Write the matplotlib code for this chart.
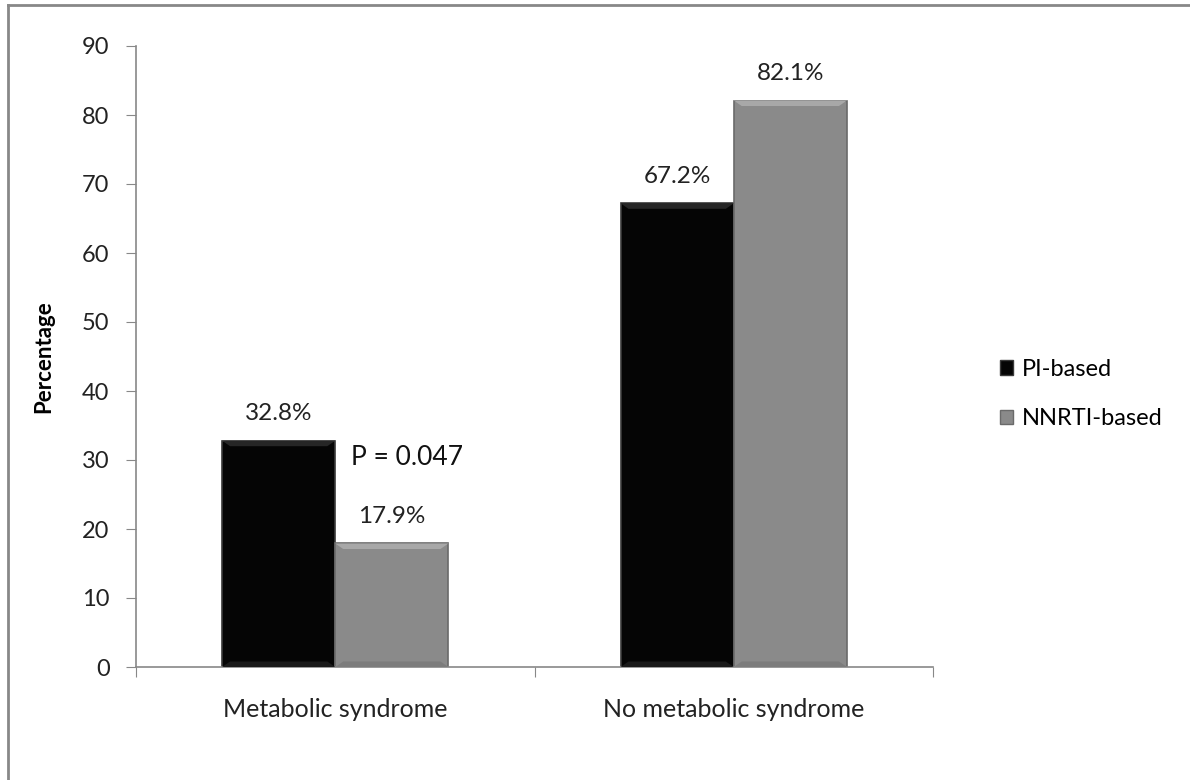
import matplotlib
matplotlib.use("Agg")
import matplotlib.pyplot as plt
import numpy as np
from matplotlib.patches import Polygon, Patch
from matplotlib.lines import Line2D

categories = ["Metabolic syndrome", "No metabolic syndrome"]
series_names = ["PI-based", "NNRTI-based"]
pi_values = [32.8, 67.2]
nnrti_values = [17.9, 82.1]
bar_labels_pi = ["32.8%", "67.2%"]
bar_labels_nnrti = ["17.9%", "82.1%"]
p_text = "P = 0.047"
yticks = [0, 10, 20, 30, 40, 50, 60, 70, 80, 90]

FONT = ["Lato", "DejaVu Sans"]
plt.rcParams["font.family"] = FONT

fig = plt.figure(figsize=(11.9, 7.8), dpi=100)
ax = fig.add_axes([136/1190, 1-667/780, (933-136)/1190, (667-46)/780])

x = np.arange(len(categories))
w = 0.284
colors = ["#050505", "#8a8a8a"]
edges = ["#3a3a3a", "#6a6a6a"]
bevel_top = ["#262626", "#a8a8a8"]
bevel_bot = ["#1a1a1a", "#7c7c7c"]

b1 = ax.bar(x - w/2, pi_values, w, color=colors[0], edgecolor=edges[0], linewidth=1.2, zorder=2)
b2 = ax.bar(x + w/2, nnrti_values, w, color=colors[1], edgecolor=edges[1], linewidth=1.2, zorder=2)

# bevel effect derived from bar geometry
bev_x = 0.02
bev_y = 0.8
for bars, ci in ((b1, 0), (b2, 1)):
    for r in bars:
        x0, y0 = r.get_x(), r.get_y()
        x1, y1 = x0 + r.get_width(), y0 + r.get_height()
        top = Polygon([(x0, y1), (x1, y1), (x1 - bev_x, y1 - bev_y), (x0 + bev_x, y1 - bev_y)],
                      closed=True, facecolor=bevel_top[ci], edgecolor="none", zorder=3)
        bot = Polygon([(x0, y0), (x1, y0), (x1 - bev_x, y0 + bev_y), (x0 + bev_x, y0 + bev_y)],
                      closed=True, facecolor=bevel_bot[ci], edgecolor="none", zorder=3)
        ax.add_patch(top)
        ax.add_patch(bot)

for bars, labels in ((b1, bar_labels_pi), (b2, bar_labels_nnrti)):
    for r, lab in zip(bars, labels):
        ax.annotate(lab, (r.get_x() + r.get_width()/2, r.get_height()),
                    xytext=(0, 12), textcoords="offset points", ha="center", va="bottom",
                    fontsize=17.5, color="#222222")

ax.annotate(p_text, (b1[0].get_x() + b1[0].get_width(), pi_values[0]),
            xytext=(11, -3), textcoords="offset points", ha="left", va="top",
            fontsize=19, color="#111111")

ax.set_xlim(-0.5, 1.5)
ax.set_ylim(0, 90)
ax.set_yticks(yticks)
ax.set_yticklabels([str(t) for t in yticks], fontsize=17, color="#222222")
ax.set_xticks([-0.5, 0.5, 1.5])
ax.set_xticklabels([])
ax.set_xticks(x, minor=True)
ax.set_xticklabels(categories, minor=True, fontsize=18, color="#222222")
ax.tick_params(axis="x", which="minor", length=0, pad=22)
ax.tick_params(axis="x", which="major", length=7, color="#888888", direction="out")
ax.tick_params(axis="y", length=7, color="#888888", direction="out", pad=12)
for s in ["top", "right"]:
    ax.spines[s].set_visible(False)
for s in ["left", "bottom"]:
    ax.spines[s].set_color("#888888")
    ax.spines[s].set_linewidth(1.2)

ax.set_ylabel("Percentage", fontsize=16, fontweight="bold", labelpad=20)

handles = [Patch(facecolor=colors[0], edgecolor=edges[0]),
           Patch(facecolor=colors[1], edgecolor=edges[1])]
leg = fig.legend(handles, series_names, loc="center left", bbox_to_anchor=(979/1190, 1-394/780),
                 frameon=False, fontsize=17, handlelength=0.55, handleheight=0.55,
                 handletextpad=0.35, labelspacing=1.2)

# outer frame (left and top only visible)
fig.add_artist(Line2D([8/1190, 8/1190], [0, 1-5/780], transform=fig.transFigure, color="#888888", lw=2))
fig.add_artist(Line2D([8/1190, 1], [1-5/780, 1-5/780], transform=fig.transFigure, color="#888888", lw=2))

fig.savefig("out.png", dpi=100)
